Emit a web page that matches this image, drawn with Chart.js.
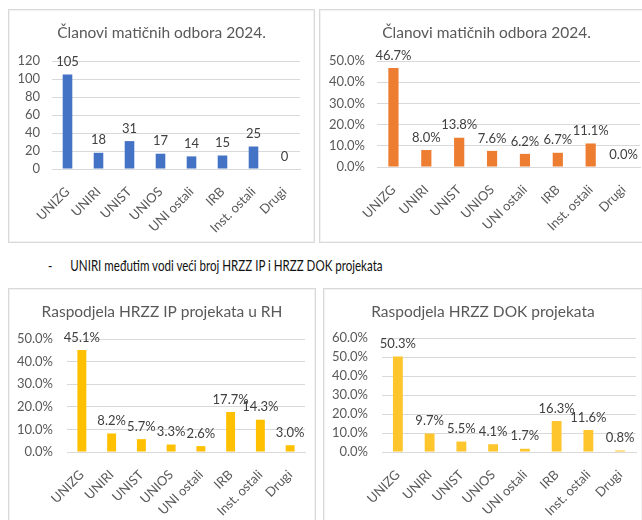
<!DOCTYPE html>
<html>
<head>
<meta charset="utf-8">
<script src="https://cdn.jsdelivr.net/npm/chart.js@4.4.1/dist/chart.umd.min.js"></script>
<style>
  body { margin: 0; background: #fff; width: 642px; height: 520px; overflow: hidden; position: relative; font-family: Lato, "Liberation Sans", sans-serif; }
  .box { position: absolute; border: 1px solid #d9d9d9; box-shadow: inset 0 0 0 1px #f2f2f2; background: #fff; }
  .box canvas { position: absolute; left: 0; top: 0; }
  .note { position: absolute; left: 48px; top: 256px; font-size: 15px; color: #111; white-space: nowrap; transform: scaleX(0.77); transform-origin: 0 0; }
  .note span { display: inline-block; width: 29px; }
</style>
</head>
<body>
<div class="box" style="left:8px;top:9px;width:305px;height:232px"><canvas id="c1" width="305" height="232"></canvas></div>
<div class="box" style="left:319px;top:9px;width:333px;height:232px"><canvas id="c2" width="333" height="232"></canvas></div>
<div class="note"><span>-</span>UNIRI međutim vodi veći broj HRZZ IP i HRZZ DOK projekata</div>
<div class="box" style="left:8px;top:288px;width:306px;height:240px"><canvas id="c3" width="306" height="240"></canvas></div>
<div class="box" style="left:323px;top:288px;width:318px;height:240px"><canvas id="c4" width="318" height="240"></canvas></div>
<script>
const categories = ["UNIZG", "UNIRI", "UNIST", "UNIOS", "UNI ostali", "IRB", "Inst. ostali", "Drugi"]

// Članovi matičnih odbora 2024. (broj i udio)
const clanoviBroj = [105, 18, 31, 17, 14, 15, 25, 0]
const clanoviUdio = [46.7, 8.0, 13.8, 7.6, 6.2, 6.7, 11.1, 0.0]

// Raspodjela HRZZ projekata (udio u %)
const ipUdio = [45.1, 8.2, 5.7, 3.3, 2.6, 17.7, 14.3, 3.0]
const dokUdio = [50.3, 9.7, 5.5, 4.1, 1.7, 16.3, 11.6, 0.8]

// y axis ranges
const brojAxis = { max: 120, step: 20 }
const udioAxis50 = { max: 50, step: 10 }
const udioAxis60 = { max: 60, step: 10 }

const textColor = "#595959"
const labelColor = "#404040"
const gridColor = "#d9d9d9"
const fontFamily = "Lato, 'Liberation Sans', sans-serif"

const pct = (v) => v.toFixed(1) + "%"

// simple data labels above each bar
const barLabels = {
  id: "barLabels",
  afterDatasetsDraw(chart, args, opts) {
    const ctx = chart.ctx
    const meta = chart.getDatasetMeta(0)
    const values = chart.data.datasets[0].data
    ctx.save()
    ctx.font = `${opts.size}px ${fontFamily}`
    ctx.fillStyle = labelColor
    ctx.textAlign = "center"
    ctx.textBaseline = "bottom"
    meta.data.forEach((bar, i) => {
      ctx.fillText(opts.format(values[i]), bar.x, bar.y - 6)
    })
    ctx.restore()
  },
}

function makeChart(id, cfg) {
  const canvas = document.getElementById(id)
  const w = canvas.width
  const h = canvas.height
  const titleSize = 15.5
  return new Chart(canvas, {
    type: "bar",
    data: {
      labels: categories,
      datasets: [{
        data: cfg.values,
        backgroundColor: cfg.color,
        barPercentage: cfg.barFrac,
        categoryPercentage: 1,
      }],
    },
    options: {
      responsive: false,
      animation: false,
      plugins: {
        legend: { display: false },
        tooltip: { enabled: false },
        title: {
          display: true,
          text: cfg.title,
          color: textColor,
          font: { family: fontFamily, size: titleSize, weight: "normal" },
          padding: { top: 23 - titleSize * 0.6, bottom: cfg.plotTop - 23 - titleSize * 0.6 },
        },
        barLabels: { size: 13, format: cfg.format },
      },
      scales: {
        x: {
          grid: { display: false },
          border: { display: true, color: gridColor, width: 1 },
          ticks: {
            color: textColor,
            font: { family: fontFamily, size: 13 },
            minRotation: 45,
            maxRotation: 45,
            autoSkip: false,
            padding: 7,
          },
          afterFit: (scale) => { scale.height = h - cfg.plotBottom },
        },
        y: {
          min: 0,
          max: cfg.axis.max,
          grid: { color: gridColor, drawTicks: false },
          border: { display: false },
          ticks: {
            stepSize: cfg.axis.step,
            autoSkip: false,
            color: textColor,
            font: { family: fontFamily, size: 13 },
            padding: cfg.plotLeft - cfg.tickRight,
            callback: cfg.tickFormat,
          },
          afterFit: (scale) => { scale.width = cfg.plotLeft },
        },
        // empty right axis, only keeps the plot clear of the right edge
        yRight: {
          type: "linear",
          position: "right",
          grid: { display: false },
          border: { display: false },
          ticks: { display: false },
          afterFit: (scale) => { scale.width = w - cfg.plotRight },
        },
      },
    },
    plugins: [barLabels],
  })
}

makeChart("c1", {
  title: "Članovi matičnih odbora 2024.",
  values: clanoviBroj, color: "#4472c4", axis: brojAxis,
  format: (v) => String(v), tickFormat: (v) => v,
  plotLeft: 43, tickRight: 31, plotRight: 291, plotTop: 51, plotBottom: 159, barFrac: 0.31,
})

makeChart("c2", {
  title: "Članovi matičnih odbora 2024.",
  values: clanoviUdio, color: "#ed7d31", axis: udioAxis50,
  format: pct, tickFormat: pct,
  plotLeft: 57, tickRight: 45, plotRight: 320, plotTop: 51, plotBottom: 157, barFrac: 0.31,
})

makeChart("c3", {
  title: "Raspodjela HRZZ IP projekata u RH",
  values: ipUdio, color: "#ffc000", axis: udioAxis50,
  format: pct, tickFormat: pct,
  plotLeft: 58, tickRight: 44, plotRight: 296, plotTop: 50, plotBottom: 163, barFrac: 0.3,
})

makeChart("c4", {
  title: "Raspodjela HRZZ DOK projekata",
  values: dokUdio, color: "#ffc52c", axis: udioAxis60,
  format: pct, tickFormat: pct,
  plotLeft: 58, tickRight: 44, plotRight: 312, plotTop: 49, plotBottom: 163, barFrac: 0.31,
})
</script>
</body>
</html>
